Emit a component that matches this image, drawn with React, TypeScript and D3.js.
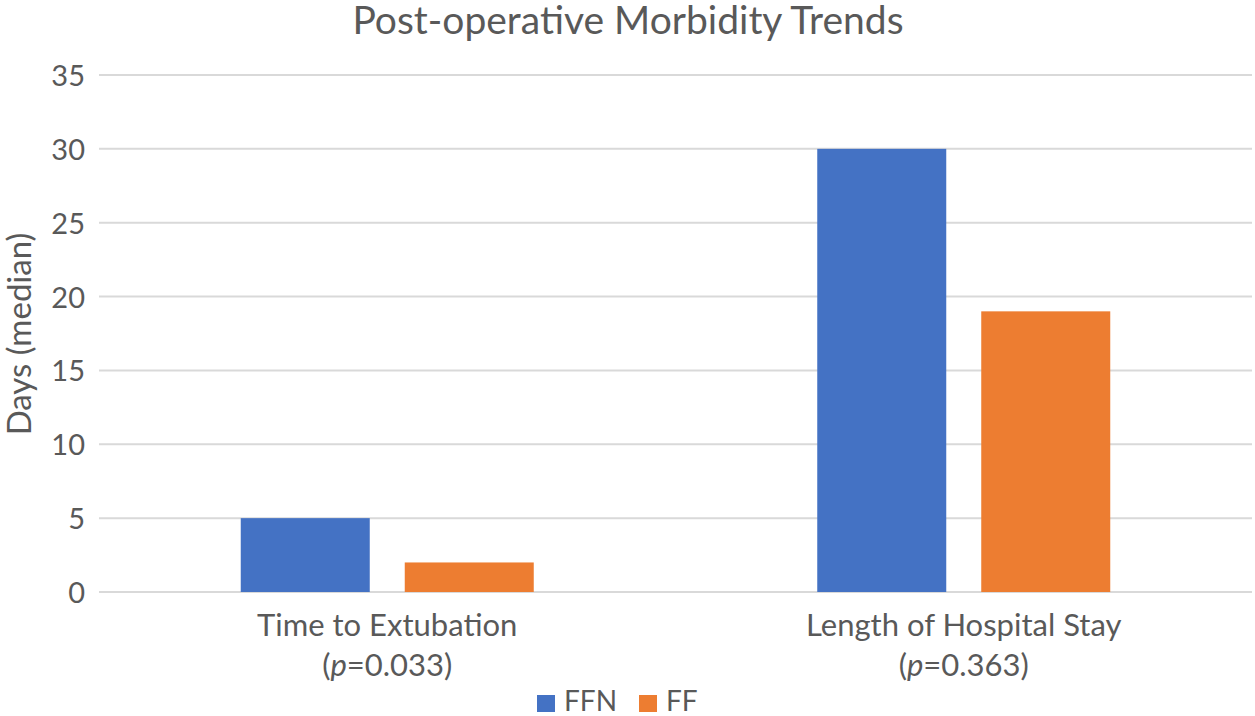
import React from "react";
import * as d3 from "d3";

const categories = ["Time to Extubation", "Length of Hospital Stay"];
const pLabels = ["0.033", "0.363"];
const seriesNames = ["FFN", "FF"];
const ffnValues = [5, 30];
const ffValues = [2, 19];
const yTicks = [0, 5, 10, 15, 20, 25, 30, 35];
const colors = ["#4472C4", "#ED7D31"];

const W = 1255;
const H = 716;
const FONT = "Lato, 'Open Sans', sans-serif";
const TEXT = "#595959";

export default function App() {
  const left = 99, right = 1252, top = 75, bottom = 592;
  const x = d3.scaleBand<string>().domain(categories).range([left, right]);
  const y = d3.scaleLinear().domain([0, 35]).range([bottom, top]);
  const barW = 129;
  const gap = 35;
  const series = [ffnValues, ffValues];

  return (
    <svg width={W} height={H} style={{ position: "absolute", left: 0, top: 0, background: "#fff" }} fontFamily={FONT}>
      <rect width={W} height={H} fill="#fff" />
      <text x={628} y={34} textAnchor="middle" fontSize={39} fill={TEXT}>Post-operative Morbidity Trends</text>
      {yTicks.map((t) => (
        <g key={t}>
          <line x1={left} x2={right} y1={y(t)} y2={y(t)} stroke="#D9D9D9" strokeWidth={2} />
          <text x={85} y={y(t) + 11} textAnchor="end" fontSize={29} fill={TEXT}>{t}</text>
        </g>
      ))}
      <text transform={`translate(31,334) rotate(-90)`} textAnchor="middle" fontSize={33} fill={TEXT}>Days (median)</text>
      {categories.map((c, i) => {
        const cx = (x(c) as number) + x.bandwidth() / 2;
        const total = barW * 2 + gap;
        return (
          <g key={c}>
            {series.map((s, j) => {
              const bx = cx - total / 2 + j * (barW + gap);
              return <rect key={j} x={bx} y={y(s[i])} width={barW} height={y(0) - y(s[i])} fill={colors[j]} />;
            })}
            <text x={cx} y={636} textAnchor="middle" fontSize={31} fill={TEXT}>{c}</text>
            <text x={cx} y={676} textAnchor="middle" fontSize={31} fill={TEXT}>
              (<tspan fontStyle="italic">p</tspan>={pLabels[i]})
            </text>
          </g>
        );
      })}
      <g>
        <rect x={537} y={695} width={18} height={17} fill={colors[0]} />
        <text x={564} y={711} fontSize={28} fill={TEXT}>{seriesNames[0]}</text>
        <rect x={639} y={695} width={18} height={17} fill={colors[1]} />
        <text x={666} y={711} fontSize={28} fill={TEXT}>{seriesNames[1]}</text>
      </g>
    </svg>
  );
}
